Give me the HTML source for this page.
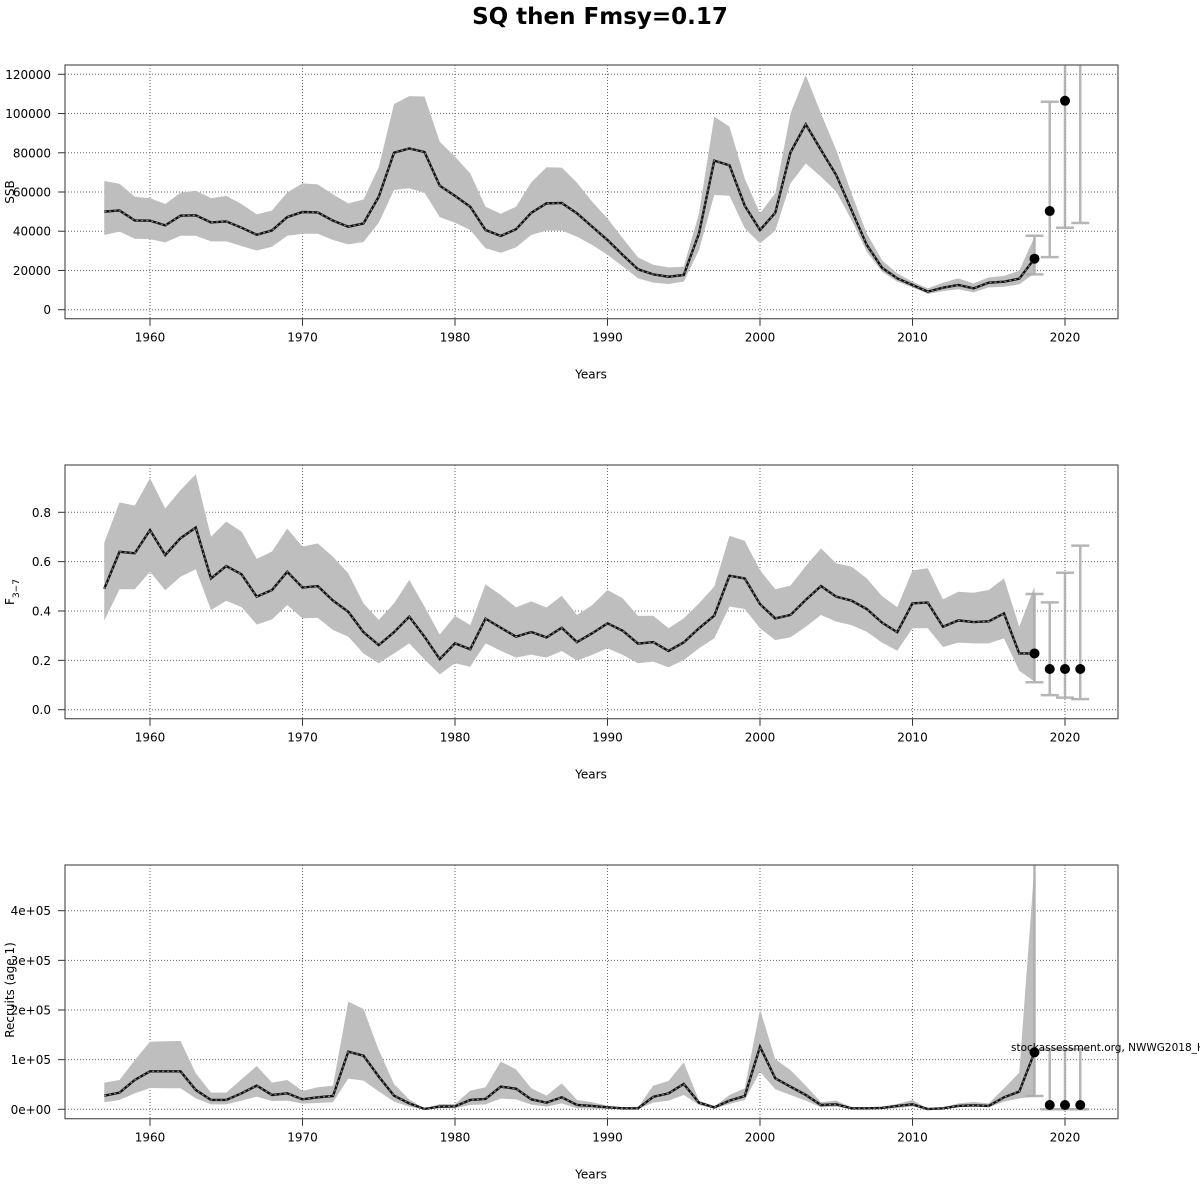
<!DOCTYPE html>
<html><head><meta charset="utf-8"><style>
html,body{margin:0;padding:0;background:#fff;}
svg{display:block;font-family:"DejaVu Sans","Liberation Sans",sans-serif;}
</style></head><body>
<svg id="chart" width="1200" height="1200" xmlns="http://www.w3.org/2000/svg">
<text x="600" y="24" text-anchor="middle" font-size="23" font-weight="bold">SQ then Fmsy=0.17</text>
</svg>
<script>
const years = [1957,1958,1959,1960,1961,1962,1963,1964,1965,1966,1967,1968,1969,1970,1971,1972,1973,1974,1975,1976,1977,1978,1979,1980,1981,1982,1983,1984,1985,1986,1987,1988,1989,1990,1991,1992,1993,1994,1995,1996,1997,1998,1999,2000,2001,2002,2003,2004,2005,2006,2007,2008,2009,2010,2011,2012,2013,2014,2015,2016,2017,2018];
const ssbMean = [50.0,50.6,45.5,45.4,43.0,47.9,48.1,44.5,45.0,41.8,38.2,40.4,47.2,49.8,49.6,45.4,42.3,44.0,57.6,80.0,82.2,80.4,63.2,58.0,52.5,40.6,37.6,41.0,49.4,54.2,54.4,49.1,42.3,35.5,27.9,20.6,18.0,16.8,17.7,38.9,76.0,73.6,53.0,40.6,49.4,80.2,94.5,81.4,68.6,50.8,33.0,21.4,16.0,12.6,9.2,11.2,12.6,10.9,13.8,14.3,15.8,26.0];
const ssbHigh = [65.6,64.2,57.6,56.9,53.9,59.6,60.7,56.9,58.0,53.9,48.6,50.6,59.8,64.4,63.9,58.8,54.2,56.2,72.6,104.8,108.9,108.7,85.6,78.0,69.5,52.5,48.9,52.5,64.9,72.6,72.4,64.7,55.0,46.5,36.4,26.7,22.9,21.6,21.9,49.1,98.4,93.3,66.9,49.1,59.3,100.0,119.6,100.0,81.4,59.3,38.9,25.3,18.5,14.3,10.9,13.8,16.0,13.4,16.5,17.2,19.9,37.2];
const ssbLow = [38.1,39.8,36.2,36.0,34.3,37.7,37.7,34.8,34.8,32.5,30.1,32.1,37.7,38.7,38.7,35.5,33.3,34.5,44.3,61.0,61.9,59.6,47.2,44.3,40.6,31.3,29.0,31.8,38.1,40.4,40.4,37.2,33.0,28.0,22.0,16.0,13.8,13.1,14.3,30.4,58.5,58.1,41.5,33.8,40.3,64.4,74.6,67.8,60.2,45.7,29.6,19.4,14.3,11.4,8.0,9.5,10.4,8.8,11.4,11.7,12.9,18.5];
const fMean = [0.490,0.640,0.634,0.728,0.627,0.695,0.738,0.532,0.582,0.549,0.458,0.485,0.559,0.495,0.501,0.442,0.397,0.314,0.262,0.314,0.377,0.296,0.205,0.269,0.245,0.369,0.332,0.296,0.315,0.293,0.332,0.274,0.310,0.350,0.320,0.268,0.274,0.238,0.273,0.330,0.381,0.543,0.532,0.428,0.370,0.384,0.445,0.501,0.458,0.442,0.408,0.353,0.314,0.431,0.434,0.336,0.362,0.355,0.358,0.390,0.228,0.228];
const fHigh = [0.677,0.840,0.827,0.938,0.816,0.890,0.954,0.701,0.762,0.722,0.611,0.641,0.734,0.661,0.674,0.620,0.553,0.431,0.364,0.431,0.526,0.418,0.305,0.380,0.343,0.508,0.465,0.415,0.439,0.414,0.462,0.384,0.424,0.485,0.451,0.380,0.381,0.330,0.370,0.431,0.499,0.705,0.684,0.566,0.488,0.503,0.582,0.654,0.593,0.580,0.532,0.461,0.415,0.564,0.573,0.447,0.478,0.474,0.485,0.532,0.336,0.499];
const fLow = [0.361,0.488,0.488,0.559,0.484,0.539,0.569,0.404,0.441,0.416,0.345,0.366,0.424,0.370,0.372,0.323,0.296,0.228,0.188,0.228,0.269,0.204,0.143,0.188,0.174,0.269,0.239,0.211,0.223,0.211,0.238,0.199,0.222,0.249,0.222,0.188,0.195,0.172,0.201,0.249,0.289,0.418,0.408,0.330,0.282,0.293,0.336,0.384,0.357,0.343,0.316,0.272,0.239,0.330,0.330,0.254,0.272,0.269,0.269,0.289,0.158,0.114];
const recMean = [27.5,33.6,59,76.5,76.5,76.5,39,18.8,18.8,32.2,47.7,28.9,32.2,20.1,24.2,26.8,116,108,65.8,27.5,12,0.7,5.4,6,18.8,20.8,45.6,41.6,20.1,13.4,24.2,8.7,6.7,4,2,2,25,32,51,13.4,4,17.4,26.8,126,62.4,45.6,28.9,8.7,10,2,2,2.7,6.7,10,0.5,2,6.7,8,6.7,24.2,35.6,114.8];
const recHigh = [53.7,59,99,136,137,137.6,72.5,33.6,33.6,60.4,87.2,53.7,59,36.9,44.3,47.7,216.8,202,119.5,51,20.1,1,10.7,10.7,37.6,44.3,96,80.5,42.3,27.5,52.3,18.8,14.1,7.4,4,4,47.7,57,94.6,17.4,5.4,28.9,42.3,201,101,79,47.7,14.1,17.4,4,4,5.4,10.7,18.8,1,4,12,14.8,12,42.3,73.8,492];
const recLow = [14.1,18.8,32.2,43,42.3,42.3,22.1,10,10,17.4,25.5,16.8,17.4,11.4,12.8,14.1,61.7,57.7,36.2,15.4,5.4,0,2,2,8.7,10,21.5,20.1,9.4,5.4,12,2,1.3,0.7,0.7,0.7,13.4,17.4,28.9,8.7,1,10.7,18.8,75.8,40.3,28.9,17.4,4,5.4,0.7,0.7,0.7,2.7,5.4,0,0.7,4,5.4,4,15.4,22.1,25.5];
const fcYears = [2018,2019,2020,2021];
const ssbFc = [26.0,50.3,106.5,180];
const ssbFcLow = [18.0,26.8,41.8,44.2];
const ssbFcHigh = [37.7,106.0,200,220];
const fFc = [0.228,0.165,0.165,0.165];
const fFcLow = [0.111,0.059,0.049,0.043];
const fFcHigh = [0.469,0.435,0.555,0.665];
const recFc = [114.8,8.7,8.7,8.7];
const recFcLow = [26.8,0,0,0];
const recFcHigh = [600,121,121,121];
const xTicks = [1960,1970,1980,1990,2000,2010,2020];
const ssbTicks = [0,20,40,60,80,100,120];
const ssbTickLabels = ["0","20000","40000","60000","80000","100000","120000"];
const fTicks = [0,0.2,0.4,0.6,0.8];
const fTickLabels = ["0.0","0.2","0.4","0.6","0.8"];
const recTicks = [0,100,200,300,400];
const recTickLabels = ["0e+00","1e+05","2e+05","3e+05","4e+05"];

const NS = "http://www.w3.org/2000/svg";
const svg = document.getElementById('chart');
function mk(tag, attrs, parent){const e=document.createElementNS(NS,tag);for(const k in attrs)e.setAttribute(k,attrs[k]);(parent||svg).appendChild(e);return e;}
const X0=65, X1=1118;
function xs(yr){return 150+(yr-1960)*15.25;}

function panel(cfg){
  const g=mk('g',{});
  
  
  const ys=v=>cfg.y0+(v-0)*(cfg.yTop-cfg.y0)/cfg.vTop;
  const cid='clip-'+cfg.name;
  const defs=mk('defs',{},g);
  const cp=mk('clipPath',{id:cid},defs);
  mk('rect',{x:X0,y:cfg.top,width:X1-X0,height:cfg.bot-cfg.top},cp);
  cfg.ticks.forEach((t,i)=>{
    const gl=mk('line',{x1:X0,x2:X1,y1:ys(t),y2:ys(t),stroke:'#666','stroke-width':1,'stroke-dasharray':'1,2'},g);
    
    
    const tk=mk('line',{x1:X0-7,x2:X0,y1:ys(t),y2:ys(t),stroke:'#333'},g);
    
    
    const tl=mk('text',{x:X0-14,y:ys(t)+4.5,'text-anchor':'end','font-size':12},g);
    tl.textContent=cfg.tickLabels[i];
    
    
  });
  xTicks.forEach(t=>{
    const gl=mk('line',{x1:xs(t),x2:xs(t),y1:cfg.top,y2:cfg.bot,stroke:'#666','stroke-width':1,'stroke-dasharray':'1,2'},g);
    
    
    const tk=mk('line',{x1:xs(t),x2:xs(t),y1:cfg.bot,y2:cfg.bot+7,stroke:'#333'},g);
    
    
    const tl=mk('text',{x:xs(t),y:cfg.bot+23,'text-anchor':'middle','font-size':12},g);
    tl.textContent=String(t);
    
    
  });
  const cg=mk('g',{'clip-path':'url(#'+cid+')'},g);
  let pts=[];
  years.forEach((yr,i)=>pts.push(xs(yr)+','+ys(cfg.hi[i])));
  for(let i=years.length-1;i>=0;i--)pts.push(xs(years[i])+','+ys(cfg.lo[i]));
  const band=mk('polygon',{points:pts.join(' '),fill:'#bebebe',stroke:'none'},cg);
  
  
  fcYears.forEach((yr,i)=>{
    const eb=mk('g',{stroke:'#aaaaaa','stroke-width':2.5,opacity:0.85},cg);
    
    
    const x=xs(yr);
    mk('line',{x1:x,x2:x,y1:ys(cfg.fcLo[i]),y2:ys(cfg.fcHi[i])},eb);
    mk('line',{x1:x-9,x2:x+9,y1:ys(cfg.fcLo[i]),y2:ys(cfg.fcLo[i])},eb);
    mk('line',{x1:x-9,x2:x+9,y1:ys(cfg.fcHi[i]),y2:ys(cfg.fcHi[i])},eb);
  });
  const d=years.map((yr,i)=>(i?'L':'M')+xs(yr)+','+ys(cfg.mean[i])).join(' ');
  const ln=mk('path',{d:d,fill:'none',stroke:'#111','stroke-width':2.4},cg);
  
  
  const ln2=mk('path',{d:d,fill:'none',stroke:'#888','stroke-width':1.2,'stroke-dasharray':'2,3'},cg);
  
  
  fcYears.forEach((yr,i)=>{
    const p=mk('circle',{cx:xs(yr),cy:ys(cfg.fc[i]),r:5,fill:'#000'},cg);
    
    
  });
  const fr=mk('rect',{x:X0,y:cfg.top,width:X1-X0,height:cfg.bot-cfg.top,fill:'none',stroke:'#555','stroke-width':1.2},g);
  
  
  const xl=mk('text',{x:591,y:cfg.bot+60,'text-anchor':'middle','font-size':12},g);
  xl.textContent='Years';
  
  
  const yl=mk('text',{x:0,y:0,'text-anchor':'middle','font-size':12,transform:'translate(14,'+cfg.ylabY+') rotate(-90)'},g);
  yl.innerHTML=cfg.ylab;
  
  
  return g;
}
panel({name:'ssb-panel',top:65,bot:318.7,y0:309.7,yTop:74.3,vTop:120,ticks:ssbTicks,tickLabels:ssbTickLabels,mean:ssbMean,hi:ssbHigh,lo:ssbLow,fc:ssbFc,fcLo:ssbFcLow,fcHi:ssbFcHigh,ylab:'SSB',ylabY:192});
panel({name:'f-panel',top:465,bot:718.7,y0:709.7,yTop:512.3,vTop:0.8,ticks:fTicks,tickLabels:fTickLabels,mean:fMean,hi:fHigh,lo:fLow,fc:fFc,fcLo:fFcLow,fcHi:fFcHigh,ylab:'F<tspan baseline-shift="sub" font-size="9">3\u22127</tspan>',ylabY:592});
panel({name:'recruits-panel',top:865,bot:1118.7,y0:1109.3,yTop:910.7,vTop:400,ticks:recTicks,tickLabels:recTickLabels,mean:recMean,hi:recHigh,lo:recLow,fc:recFc,fcLo:recFcLow,fcHi:recFcHigh,ylab:'Recruits (age 1)',ylabY:990});
const src=mk('text',{x:1011,y:1051,'font-size':10.5});
src.textContent='stockassessment.org, NWWG2018_Haddock';


</script>
</body></html>
